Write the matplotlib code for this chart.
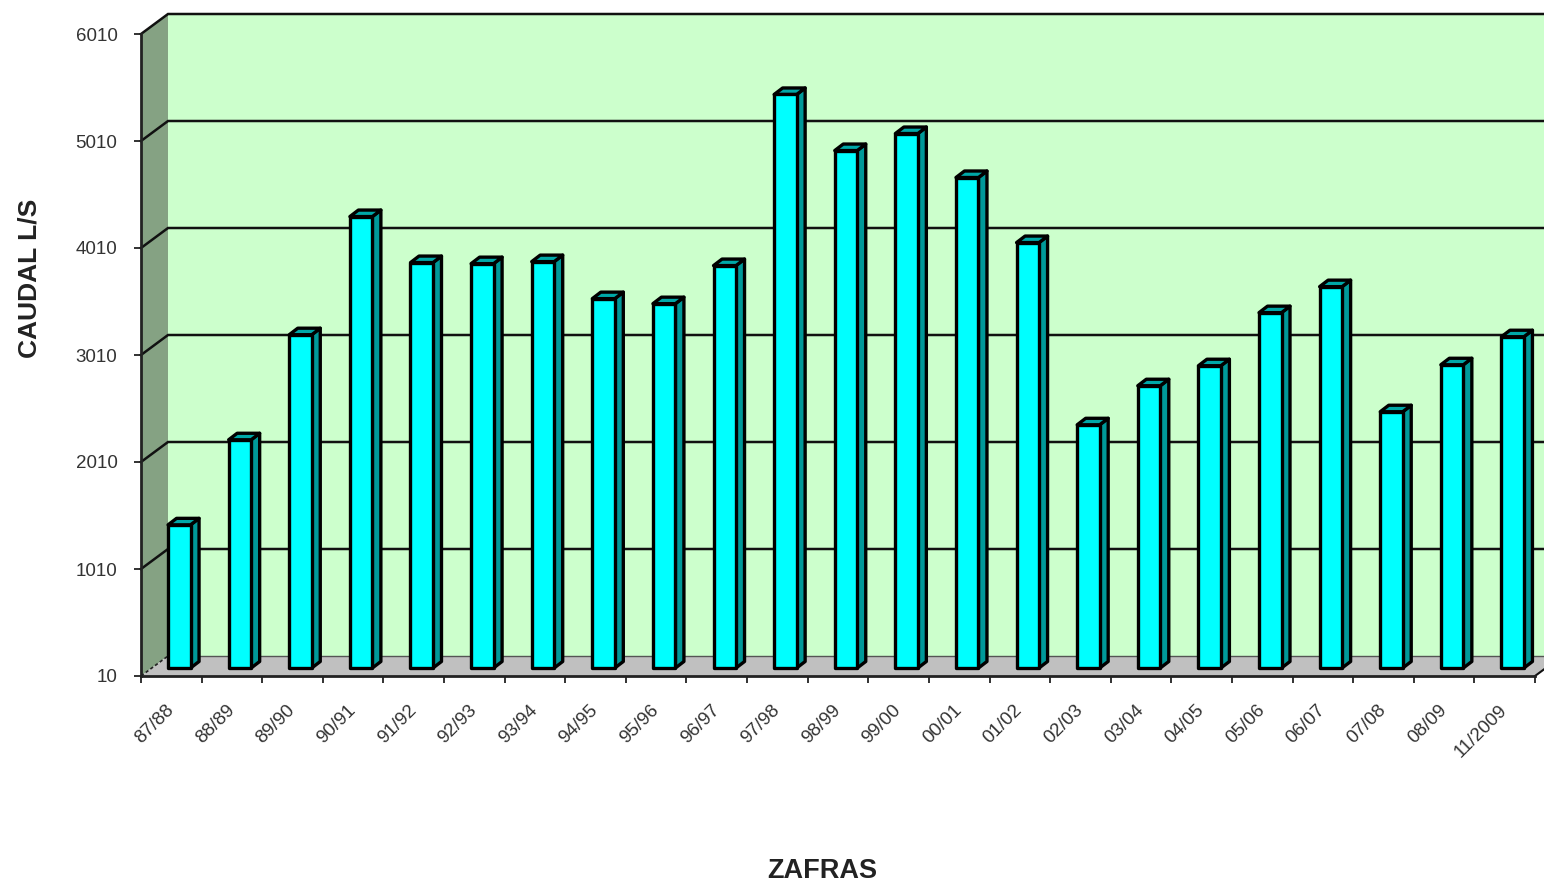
import matplotlib
matplotlib.use("Agg")
import matplotlib.pyplot as plt
from matplotlib.patches import Polygon
import numpy as np

plt.rcParams['font.family'] = ['Liberation Sans', 'DejaVu Sans']

zafras = ["87/88","88/89","89/90","90/91","91/92","92/93","93/94","94/95","95/96","96/97","97/98",
          "98/99","99/00","00/01","01/02","02/03","03/04","04/05","05/06","06/07","07/08","08/09","11/2009"]
caudal = [1348,2143,3125,4229,3799,3789,3808,3462,3415,3771,5370,
          4846,5005,4594,3986,2283,2648,2835,3331,3574,2405,2844,3106]
y_ticks = [10,1010,2010,3010,4010,5010,6010]

W, H = 1544, 883
fig = plt.figure(figsize=(W/100, H/100), dpi=100, facecolor='white')
L, R, B, T = 141, 1535, 676, 34
ax = fig.add_axes([L/W, 1-B/H, (R-L)/W, (B-T)/H])
ax.set_xlim(0, len(zafras))
ax.set_ylim(y_ticks[0], y_ticks[-1])
ax.patch.set_visible(False)

px = (R-L)/len(zafras)          # pixels per category
py = (B-T)/(y_ticks[-1]-y_ticks[0])  # pixels per value unit
dx = 27/px; dy = 20/py          # full depth of the 3D box
ymin, ymax = y_ticks[0], y_ticks[-1]
n = len(zafras)

def poly(pts, fc, ec='none', lw=0, z=1):
    ax.add_patch(Polygon(pts, closed=True, facecolor=fc, edgecolor=ec, linewidth=lw,
                         clip_on=False, zorder=z, joinstyle='round'))

# back wall, side wall, floor
poly([(dx,ymin+dy),(n+1,ymin+dy),(n+1,ymax+dy),(dx,ymax+dy)], '#CCFFCC')
poly([(0,ymin),(dx,ymin+dy),(dx,ymax+dy),(0,ymax)], '#85A283')
poly([(0,ymin),(dx,ymin+dy),(n+dx,ymin+dy),(n,ymin)], '#C0C0C0')

# gridlines
for v in y_ticks[1:]:
    ax.plot([0,dx,n+1],[v,v+dy,v+dy], color='#111111', lw=1.8, clip_on=False, zorder=2,
            solid_joinstyle='miter')
ax.plot([dx,n+1],[ymin+dy,ymin+dy], color='#555555', lw=1.0, clip_on=False, zorder=2)
ax.plot([0,dx],[ymin,ymin+dy], color='#222222', lw=1.2, ls=(0,(2,1.5)), clip_on=False, zorder=2)
ax.plot([n,n+dx],[ymin,ymin+dy], color='#111111', lw=1.5, clip_on=False, zorder=2)

# bars
bw = 22.5/px
bdx = 8.5/px; bdy = 6.5/py
base_x = 8/px; base_y = 8/py
for i, v in enumerate(caudal):
    x0 = i + 0.5 - bw/2 + base_x
    x1 = x0 + bw
    y0 = ymin + base_y
    top = v + base_y - 0  # front face top
    ek = dict(ec='black', lw=2.4, z=3)
    poly([(x1,y0),(x1+bdx,y0+bdy),(x1+bdx,top+bdy),(x1,top)], '#009999', **ek)
    poly([(x0,top),(x1,top),(x1+bdx,top+bdy),(x0+bdx,top+bdy)], '#00A8A8', **ek)
    poly([(x0,y0),(x1,y0),(x1,top),(x0,top)], '#00FFFF', **ek)

# axes furniture
for s in ['top','right']:
    ax.spines[s].set_visible(False)
for s in ['left','bottom']:
    ax.spines[s].set_linewidth(2.0)
    ax.spines[s].set_color('#222222')
    ax.spines[s].set_zorder(4)
ax.set_yticks(y_ticks)
ax.set_yticklabels([str(v) for v in y_ticks], fontsize=13.5, color='#333333')
ax.tick_params(axis='y', length=5, width=1.3, pad=12, color='#222222')
ax.set_xticks(np.arange(n+1))
ax.set_xticklabels([])
ax.set_xticks(np.arange(n)+0.4, minor=True)
ax.set_xticklabels(zafras, minor=True, fontsize=13.5, color='#333333', rotation=45,
                   ha='right', va='top', rotation_mode='anchor')
ax.tick_params(axis='x', which='major', length=5, width=1.3, color='#222222')
ax.tick_params(axis='x', which='minor', length=0, pad=18.5)

ax.set_xlabel("ZAFRAS", fontsize=19.5, fontweight='bold', color='#222222')
ax.xaxis.set_label_coords((822-L)/(R-L), -(858-B)/(B-T), transform=ax.transAxes)
ax.xaxis.label.set_va('top')
ax.set_ylabel("CAUDAL L/S", fontsize=19, fontweight='bold', color='#222222')
ax.yaxis.set_label_coords((29-L)/(R-L), (B-278)/(B-T), transform=ax.transAxes)
ax.yaxis.label.set_va('center')

fig.savefig("out.png", dpi=100)
